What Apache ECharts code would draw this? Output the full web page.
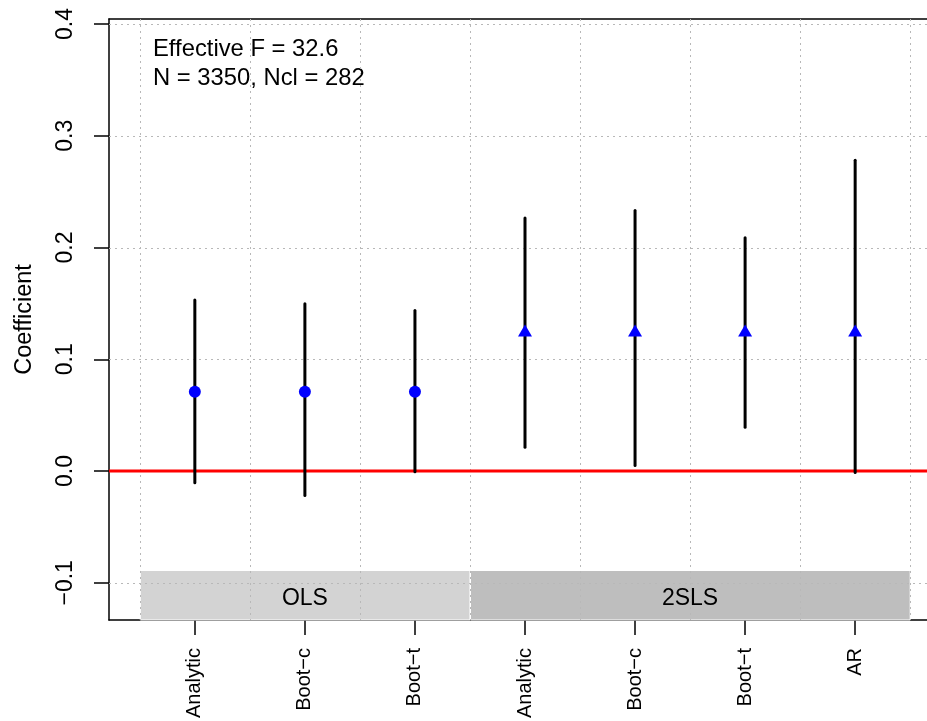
<!DOCTYPE html>
<html>
<head>
<meta charset="utf-8">
<script src="https://cdn.jsdelivr.net/npm/echarts@6/dist/echarts.min.js"></script>
<style>
  html, body { margin: 0; padding: 0; background: #ffffff; }
  #chart { width: 927px; height: 721px; }
</style>
</head>
<body>
<div id="chart"></div>
<script>
// Inference methods along the x axis (positions 1..7)
const methodLabels = ['Analytic', 'Boot\u2212c', 'Boot\u2212t', 'Analytic', 'Boot\u2212c', 'Boot\u2212t', 'AR'];

// OLS estimates with confidence intervals
const olsPos = [1, 2, 3];
const olsEstimate = [0.071, 0.071, 0.071];
const olsLower = [-0.0105, -0.022, -0.0006];
const olsUpper = [0.153, 0.1497, 0.1437];

// 2SLS estimates with confidence intervals
const tslsPos = [4, 5, 6, 7];
const tslsEstimate = [0.124, 0.124, 0.124, 0.124];
const tslsLower = [0.0213, 0.0049, 0.0392, -0.0014];
const tslsUpper = [0.2265, 0.2332, 0.2087, 0.2782];

// Estimator groups shown as shaded strips along the bottom
const groupNames = ['OLS', '2SLS'];
const groupStart = [0.5, 3.5];
const groupEnd = [3.5, 7.5];

// Axis ticks and reference grid
const yTicks = [-0.1, 0.0, 0.1, 0.2, 0.3, 0.4];
const xTicks = [1, 2, 3, 4, 5, 6, 7];
const xGridAt = [0.5, 1.5, 2.5, 3.5, 4.5, 5.5, 6.5, 7.5];
const zeroRef = [0];

// Annotation lines
const notes = ['Effective F = 32.6', 'N = 3350, Ncl = 282'];

// Plot ranges
const X_MIN = 0.22, X_MAX = 7.78;
const Y_MIN = -0.1333, Y_MAX = 0.4045;
const STRIP_TOP = -0.089;

const FONT = '"Liberation Sans", Arial, Helvetica, sans-serif';
const stripFill = ['#d3d3d3', '#bebebe'];
const gridColor = '#b8b8b8';

const chart = echarts.init(document.getElementById('chart'), null, { renderer: 'canvas' });

function crisp(v) { return Math.round(v) + 0.5; }

const intervalData = olsPos.map((x, i) => [x, olsLower[i], olsUpper[i]])
  .concat(tslsPos.map((x, i) => [x, tslsLower[i], tslsUpper[i]]));

const option = {
  animation: false,
  backgroundColor: '#ffffff',
  grid: {
    left: 109, top: 19, width: 832, height: 601,
    containLabel: false,
    outerBoundsMode: 'none'
  },
  xAxis: [
    {
      type: 'value', position: 'bottom', min: X_MIN, max: X_MAX,
      axisLine: { show: true, onZero: false, lineStyle: { color: '#000', width: 1.5 } },
      axisTick: { show: true, customValues: xTicks, length: 15, lineStyle: { color: '#000', width: 1.5 } },
      axisLabel: {
        show: true, customValues: xTicks, rotate: 90, margin: 28,
        color: '#000', fontSize: 20, fontFamily: FONT,
        formatter: v => methodLabels[Math.round(v) - 1] || ''
      },
      splitLine: { show: false }
    },
    {
      type: 'value', position: 'top', min: X_MIN, max: X_MAX,
      axisLine: { show: true, onZero: false, lineStyle: { color: '#000', width: 1.5 } },
      axisTick: { show: false }, axisLabel: { show: false }, splitLine: { show: false }
    }
  ],
  yAxis: {
    type: 'value', min: Y_MIN, max: Y_MAX,
    name: 'Coefficient', nameLocation: 'middle', nameRotate: 90, nameGap: 72,
    nameTextStyle: { color: '#000', fontSize: 23.5, fontFamily: FONT },
    axisLine: { show: true, onZero: false, lineStyle: { color: '#000', width: 1.5 } },
    axisTick: { show: true, customValues: yTicks, length: 15, lineStyle: { color: '#000', width: 1.5 } },
    axisLabel: {
      show: true, customValues: yTicks, rotate: 90, margin: 32,
      color: '#000', fontSize: 23, fontFamily: FONT,
      formatter: v => v.toFixed(1).replace('-', '\u2212')
    },
    splitLine: { show: false }
  },
  graphic: [
    { type: 'text', left: 153, top: 37, style: { text: notes[0], fill: '#000', font: '23.8px ' + FONT } },
    { type: 'text', left: 153, top: 66, style: { text: notes[1], fill: '#000', font: '23.8px ' + FONT } }
  ],
  series: [
    {
      // Shaded estimator strips
      type: 'custom', z: 1, silent: true, clip: false,
      data: groupStart.map((s, i) => [s, groupEnd[i]]),
      encode: { x: [0, 1] },
      renderItem(params, api) {
        const i = params.dataIndex;
        const p0 = api.coord([api.value(0), STRIP_TOP]);
        const p1 = api.coord([api.value(1), Y_MIN]);
        return {
          type: 'group',
          children: [
            {
              type: 'rect',
              shape: { x: p0[0] + 0.5, y: p0[1], width: p1[0] - p0[0] - 0.5, height: p1[1] - p0[1] },
              style: { fill: stripFill[i], stroke: '#ffffff', lineWidth: 1 }
            },
            {
              type: 'text',
              style: {
                text: groupNames[i], x: (p0[0] + p1[0]) / 2, y: (p0[1] + p1[1]) / 2 + 3,
                align: 'center', verticalAlign: 'middle',
                fill: '#000', fontSize: 23, fontFamily: FONT
              }
            }
          ]
        };
      }
    },
    {
      // Vertical dotted grid between methods
      type: 'custom', z: 2, silent: true,
      data: xGridAt.map(v => [v]),
      encode: { x: 0 },
      renderItem(params, api) {
        const cs = params.coordSys;
        const x = crisp(api.coord([api.value(0), 0])[0]);
        return {
          type: 'line',
          shape: { x1: x, y1: cs.y, x2: x, y2: cs.y + cs.height },
          style: { stroke: gridColor, lineWidth: 1, lineDash: [2, 4] }
        };
      }
    },
    {
      // Horizontal dotted grid at tick values
      type: 'custom', z: 2, silent: true,
      data: yTicks.map(v => [1, v]),
      encode: { x: 0, y: 1 },
      renderItem(params, api) {
        const cs = params.coordSys;
        const y = crisp(api.coord([1, api.value(1)])[1]);
        return {
          type: 'line',
          shape: { x1: cs.x, y1: y, x2: cs.x + cs.width, y2: y },
          style: { stroke: gridColor, lineWidth: 1, lineDash: [2, 4] }
        };
      }
    },
    {
      // Zero reference line
      type: 'custom', z: 3, silent: true,
      data: zeroRef.map(v => [1, v]),
      encode: { x: 0, y: 1 },
      renderItem(params, api) {
        const cs = params.coordSys;
        const y = api.coord([1, api.value(1)])[1];
        return {
          type: 'line',
          shape: { x1: cs.x, y1: y, x2: cs.x + cs.width, y2: y },
          style: { stroke: '#ff0000', lineWidth: 3 }
        };
      }
    },
    {
      // Confidence intervals
      type: 'custom', z: 4, silent: true,
      data: intervalData,
      encode: { x: 0, y: [1, 2] },
      renderItem(params, api) {
        const lo = api.coord([api.value(0), api.value(1)]);
        const hi = api.coord([api.value(0), api.value(2)]);
        return {
          type: 'line',
          shape: { x1: lo[0], y1: lo[1], x2: hi[0], y2: hi[1] },
          style: { stroke: '#000000', lineWidth: 3, lineCap: 'round' }
        };
      }
    },
    {
      name: 'OLS', type: 'scatter', z: 5, silent: true,
      symbol: 'circle', symbolSize: 12,
      itemStyle: { color: '#0000ff', opacity: 1 },
      data: olsPos.map((x, i) => [x, olsEstimate[i]])
    },
    {
      name: '2SLS', type: 'scatter', z: 5, silent: true,
      symbol: 'triangle', symbolSize: [14, 12], symbolOffset: [0, -2],
      itemStyle: { color: '#0000ff', opacity: 1 },
      data: tslsPos.map((x, i) => [x, tslsEstimate[i]])
    }
  ]
};

chart.setOption(option);
</script>
</body>
</html>
